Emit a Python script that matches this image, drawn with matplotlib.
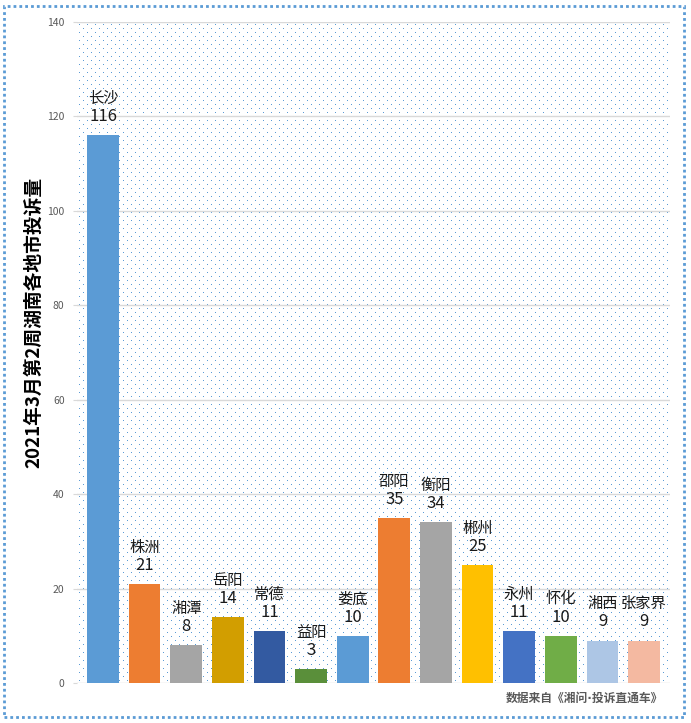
import numpy as np
import matplotlib.pyplot as plt
from matplotlib.patches import Rectangle
from matplotlib.colors import to_rgba

plt.rcParams['font.family'] = ['Noto Sans CJK SC', 'DejaVu Sans']

# 城市与投诉量
cities = ['长沙', '株洲', '湘潭', '岳阳', '常德', '益阳', '娄底',
          '邵阳', '衡阳', '郴州', '永州', '怀化', '湘西', '张家界']
counts = [116, 21, 8, 14, 11, 3, 10, 35, 34, 25, 11, 10, 9, 9]
colors = ['#5B9BD5', '#ED7D31', '#A5A5A5', '#D29E00', '#335AA1', '#5A8F3A', '#5B9BD5',
          '#ED7D31', '#A5A5A5', '#FFC000', '#4472C4', '#70AD47', '#ADC6E5', '#F4B9A1']
yticks = [0, 20, 40, 60, 80, 100, 120, 140]

W, H = 691, 723
ax_l, ax_r, ax_t, ax_b = 77, 670, 22, 683
fig = plt.figure(figsize=(W / 100, H / 100), dpi=100)
ax = fig.add_axes([ax_l / W, 1 - ax_b / H, (ax_r - ax_l) / W, (ax_b - ax_t) / H])

# 背景点状纹理（交错小点）
ph, pw = ax_b - ax_t, ax_r - ax_l
tex = np.zeros((ph, pw, 4))
dot = to_rgba('#5B9BD5')
for r in range(2, ph, 4):
    off = 2 if (r // 4) % 2 == 0 else 6
    tex[r, off::8] = dot
ax.imshow(tex, extent=[0, 1, 0, 1], transform=ax.transAxes, aspect='auto',
          interpolation='nearest', zorder=0)

x = list(range(len(cities)))
ax.bar(x, counts, width=0.76, color=colors, zorder=3)

# 数据标签：城市名 + 数值
for i, (name, v) in enumerate(zip(cities, counts)):
    ax.annotate(str(v), (i, v), xytext=(0, 13.5), textcoords='offset points',
                ha='center', va='center', fontsize=12, color='#1a1a1a', zorder=5)
    ax.annotate(name, (i, v), xytext=(0, 26.5), textcoords='offset points',
                ha='center', va='center', fontsize=11, color='#1a1a1a', zorder=5)

ax.set_xlim(-0.625, 13.625)
ax.set_ylim(0, 140)
ax.set_yticks(yticks)
ax.set_xticks([])
ax.yaxis.grid(True, color='#D9D9D9', linewidth=1, zorder=1)
ax.set_axisbelow(True)
ax.tick_params(axis='y', length=3, color='#D9D9D9', labelsize=7.5,
               labelcolor='#595959', pad=6)
for s in ax.spines.values():
    s.set_visible(False)

fig.text(34 / W, 1 - 322 / H, '2021年3月第2周湖南各地市投诉量', rotation=90,
         ha='center', va='center', fontsize=13.5, fontweight='bold', color='black')
fig.text(663 / W, 1 - 698 / H, '数据来自《湘问·投诉直通车》', ha='right', va='center',
         fontsize=8.5, fontweight='bold', color='#595959',
         family=['DejaVu Sans', 'Noto Sans CJK SC'])

# 外框蓝色点线
border = Rectangle((4 / W, 6 / H), 680 / W, 711 / H, transform=fig.transFigure,
                   facecolor='none', edgecolor='#5B9BD5', linewidth=2,
                   linestyle=(0, (1, 1.1)), capstyle='butt')
fig.patches.append(border)

fig.savefig('out.png', dpi=100)
